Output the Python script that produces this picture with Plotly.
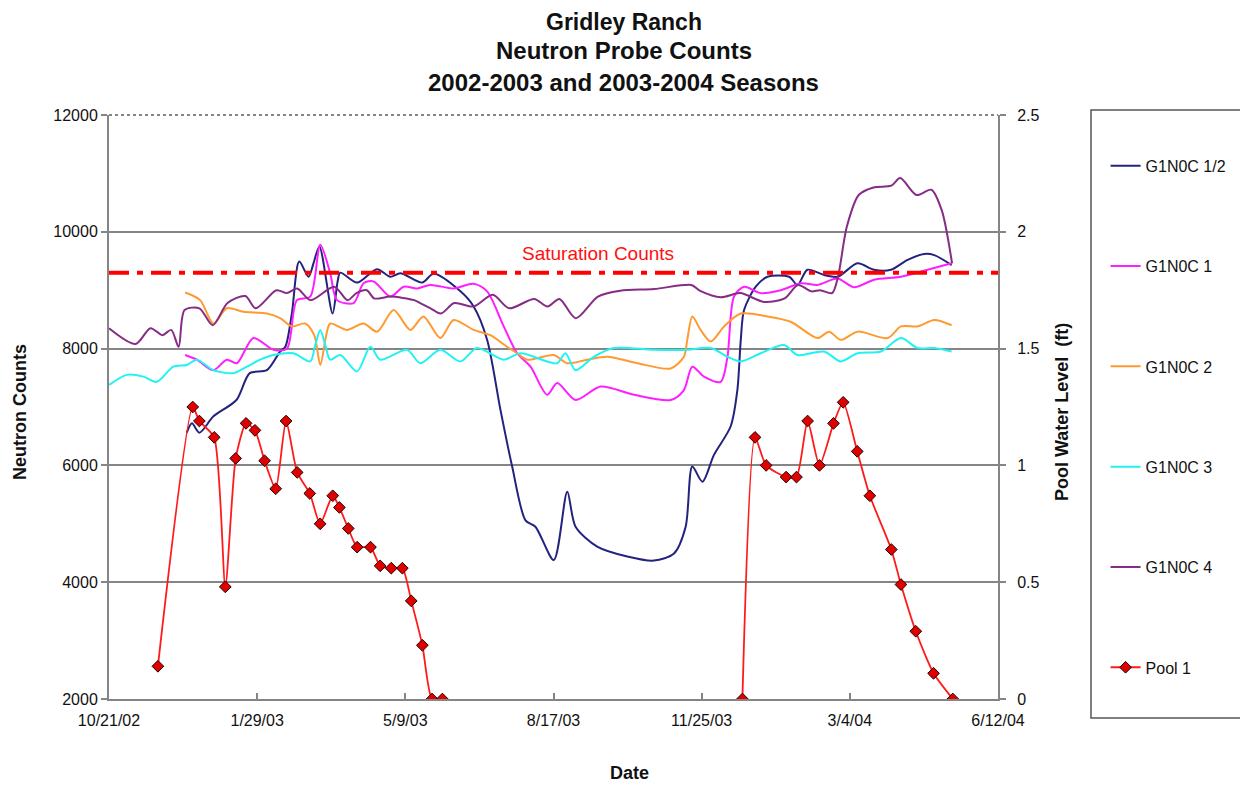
import plotly.graph_objects as go
import pandas as pd

# ---------------- data (days after 10/21/02) ----------------
START = "2002-10-21"

g12_days = [52.5, 56, 61, 70.5, 86, 95, 106.5, 115.5, 119, 123.4,
            128.4, 134.7, 138, 142, 150.9, 154.3, 156.1, 167.4, 180.9, 189.9,
            196.6, 211.3, 219.1, 237.2, 246.1, 255.2, 264.2, 272.1, 281.1, 287.8,
            300.2, 309.3, 314.9, 329.5, 349.8, 367.8, 381.3, 389.2, 393.7, 400.5,
            408.3, 419.6, 424.1, 426.4, 428.6, 436.5, 444.4, 459, 464.7, 471.4,
            482.6, 491.7, 505.2, 516.4, 527.7, 539, 550.2, 557, 568.7]
g12_vals = [6560, 6720, 6560, 6840, 7120, 7580, 7630, 7950, 8030, 8600,
            9490, 9230, 9460, 9750, 8600, 9150, 9300, 9130, 9360, 9230,
            9290, 9130, 9280, 8980, 8720, 8150, 6950, 5980, 5060, 4950,
            4380, 5550, 4950, 4610, 4440, 4370, 4490, 4950, 5980, 5720,
            6180, 6670, 7290, 8150, 8660, 9060, 9230, 9230, 9090, 9350,
            9260, 9230, 9460, 9350, 9350, 9520, 9620, 9600, 9430]

g1_days = [51.4, 59.3, 70.5, 79.5, 86.3, 97.5, 111, 120.1, 126.8,
           135.8, 142.6, 149.3, 153.9, 165.1, 171.8, 178.6, 189.9, 198.9, 207.9,
           216.9, 232.6, 246.1, 255.2, 266.4, 275.5, 284.5, 295.7, 302.5, 314.9,
           331.8, 354.3, 379.1, 388, 393.7, 401.6, 412.8, 417.4, 421.8, 428.6,
           439.9, 453.4, 467, 478.2, 491.7, 502.9, 516.4, 534.5, 552.5, 568.7]
g1_vals = [7890, 7810, 7630, 7810, 7750, 8180, 7980, 8000, 8830,
           8890, 9780, 9290, 8830, 8780, 9120, 9150, 8890, 9060, 9030,
           9090, 9030, 9110, 8980, 8380, 7920, 7690, 7210, 7410, 7120,
           7350, 7210, 7120, 7290, 7690, 7520, 7430, 7860, 8890, 9060,
           8950, 9000, 9120, 9090, 9200, 9050, 9180, 9230, 9350, 9460]

g2_days = [51.4, 61.5, 70.5, 79.5, 90.7, 106.6, 115.5, 123.4, 132.4, 138.5,
           142.6, 146.6, 149.3, 160.6, 171.8, 180.9, 192.1, 203.4, 212.2, 223.6,
           232.6, 246.1, 257.4, 268.7, 275.5, 282.2, 300.2, 309.3, 322.8, 336.3,
           356.6, 379.1, 388, 390.3, 393.7, 399.3, 406.1, 415.1, 426.4, 444.4,
           460.1, 478.2, 486, 493.9, 505.2, 525.5, 534.5, 545.7, 557, 568.7]
g2_vals = [8960, 8830, 8430, 8690, 8630, 8600, 8520, 8380, 8430, 8230,
           7720, 8230, 8430, 8320, 8430, 8290, 8660, 8320, 8550, 8180,
           8490, 8320, 8230, 8030, 7920, 7810, 7890, 7750, 7810, 7860,
           7750, 7660, 7860, 8150, 8550, 8320, 8120, 8380, 8600, 8550,
           8460, 8180, 8290, 8150, 8290, 8180, 8380, 8380, 8490, 8400]

g3_days = [0.2, 12, 23.2, 32.2, 43.4, 52.5, 59.3, 70.5, 84, 93,
           102, 111, 124.5, 135.8, 139.2, 142.6, 146, 149.3, 156.1, 167.4,
           176.4, 183.1, 201.1, 210.1, 223.6, 237.2, 248.4, 266.4, 277.7, 295.7,
           302.5, 308.1, 314.9, 327.2, 340.7, 367.8, 390.3, 406.1, 417.4, 426.4,
           439.9, 455.6, 464.7, 482.6, 493.9, 505.2, 520.9, 534.5, 545.7, 557,
           568.7]
g3_vals = [7380, 7550, 7520, 7430, 7690, 7720, 7810, 7630, 7580, 7690,
           7810, 7890, 7920, 7780, 8060, 8320, 8060, 7810, 7890, 7610,
           8030, 7810, 7980, 7750, 7980, 7780, 8010, 7810, 7920, 7780,
           7750, 7920, 7630, 7860, 8010, 7980, 7980, 8010, 7860, 7780,
           7920, 8060, 7890, 7950, 7780, 7920, 7950, 8180, 8010, 8010,
           7950]

g4_days = [0, 18, 28, 36, 42, 47, 51, 61, 70, 80,
           92, 99, 113, 120, 127, 136, 152, 161, 167, 174,
           179, 190, 206, 210, 217, 224, 233, 246, 259, 270,
           287, 296, 304, 315, 330, 345, 368, 393, 399, 413,
           426, 442, 456, 465, 474, 480, 488, 492, 498, 506,
           516, 528, 534, 545, 555, 562, 569]
g4_vals = [8350, 8080, 8350, 8230, 8320, 8030, 8660, 8690, 8400, 8780,
           8900, 8690, 9000, 8950, 9030, 8830, 9060, 8830, 8950, 9000,
           8860, 8890, 8830, 8780, 8690, 8600, 8780, 8720, 8920, 8690,
           8850, 8720, 8850, 8520, 8890, 8990, 9020, 9090, 8990, 8880,
           8950, 8800, 8860, 9090, 8980, 9000, 8950, 9230, 10090, 10630,
           10760, 10790, 10920, 10630, 10720, 10370, 9460]

pool_s1_days = [33, 56.5, 61, 71, 78.5, 85.5, 92.5, 98.5, 105, 112.5,
                119.5, 127, 135.5, 142.5, 151, 155.5, 161.5, 167.5, 176.5, 183,
                190.5, 198, 204, 211.5, 218, 225]
pool_s1_ft = [0.14, 1.25, 1.19, 1.12, 0.48, 1.03, 1.18, 1.15, 1.02, 0.90,
              1.19, 0.97, 0.88, 0.75, 0.87, 0.82, 0.73, 0.65, 0.65, 0.57,
              0.56, 0.56, 0.42, 0.23, 0.0, 0.0]
pool_s2_days = [427.5, 436, 443.5, 457, 464, 471.5, 479.5, 489, 495.5, 505,
                513.5, 528, 534.5, 544.5, 556.5, 569.5]
pool_s2_ft = [0.0, 1.12, 1.00, 0.95, 0.95, 1.19, 1.00, 1.18, 1.27, 1.06,
              0.87, 0.64, 0.49, 0.29, 0.11, 0.0]

SATURATION = 9300
x_tick_days = 100
x_span_days = 600

# ---------------- helpers ----------------
base = pd.Timestamp(START)


def to_dates(days):
    return [base + pd.Timedelta(days=d) for d in days]


FONT = "Liberation Sans, Arial, sans-serif"
GRID = "#858585"

fig = go.Figure()

series = [
    ("G1N0C 1/2", g12_days, g12_vals, "#23237F"),
    ("G1N0C 1", g1_days, g1_vals, "#FF1EFF"),
    ("G1N0C 2", g2_days, g2_vals, "#FF9A30"),
    ("G1N0C 3", g3_days, g3_vals, "#22F2F2"),
    ("G1N0C 4", g4_days, g4_vals, "#852C85"),
]
for name, d, v, c in series:
    fig.add_trace(go.Scatter(
        x=to_dates(d), y=v, name=name, mode="lines", legendgroup=name,
        line=dict(color=c, width=2, shape="spline", smoothing=0.8),
        yaxis="y",
    ))

pool_x = to_dates(pool_s1_days) + [None] + to_dates(pool_s2_days)
pool_y = pool_s1_ft + [None] + pool_s2_ft
fig.add_trace(go.Scatter(
    x=pool_x, y=pool_y, name="Pool 1", mode="lines+markers", legendgroup="Pool 1",
    connectgaps=False, yaxis="y2",
    line=dict(color="#FF1A1A", width=1.8, shape="spline", smoothing=0.6),
    marker=dict(symbol="diamond", size=9, color="#E00000",
                line=dict(color="#200000", width=1)),
))

end_date = (base + pd.Timedelta(days=x_span_days)).strftime("%Y-%m-%d")

# page body adds an 8px margin, so the figure is 8px smaller and margins are shifted
fig.update_layout(
    width=1240, height=780,
    margin=dict(l=101, r=250, t=107, b=89),
    paper_bgcolor="white", plot_bgcolor="white",
    font=dict(family=FONT, size=16, color="#111111"),
    showlegend=True,
    legend=dict(x=1.121, xanchor="left", y=0.942, yanchor="top",
                tracegroupgap=76.5, font=dict(size=16, family=FONT),
                bgcolor="rgba(0,0,0,0)", itemwidth=30),
    xaxis=dict(
        type="date", range=[START, end_date], tick0=START,
        dtick=x_tick_days * 86400000, tickformat="%-m/%-d/%y",
        ticks="inside", ticklen=6, tickcolor=GRID, tickwidth=1.5,
        showline=True, linecolor=GRID, linewidth=2,
        showgrid=False, zeroline=False, ticklabelstandoff=6,
        tickfont=dict(size=16),
    ),
    yaxis=dict(
        range=[2000, 12000], dtick=2000, tickformat="d",
        ticks="outside", ticklen=6, tickcolor=GRID, tickwidth=1.5,
        showline=True, linecolor=GRID, linewidth=2,
        showgrid=True, gridcolor=GRID, gridwidth=1.5, zeroline=False,
        tickfont=dict(size=16),
    ),
    yaxis2=dict(
        range=[0, 2.5], dtick=0.5, overlaying="y", side="right",
        ticks="outside", ticklen=6, tickcolor=GRID, tickwidth=1.5,
        showline=True, linecolor=GRID, linewidth=2,
        showgrid=False, zeroline=False, ticklabelstandoff=8,
        tickfont=dict(size=16),
    ),
    shapes=[
        dict(type="line", xref="paper", x0=0, x1=1, yref="y",
             y0=SATURATION, y1=SATURATION,
             line=dict(color="#FF0000", width=4, dash="20px,8px,6px,8px")),
        dict(type="line", xref="paper", x0=0, x1=1, yref="paper", y0=1, y1=1,
             line=dict(color=GRID, width=2, dash="dot")),
        dict(type="rect", xref="paper", yref="paper",
             x0=1.1046, x1=1.2733, y0=-0.0325, y1=1.0086,
             line=dict(color="#555555", width=1.5), fillcolor="rgba(0,0,0,0)"),
    ],
    annotations=[
        dict(text="<b>Gridley Ranch</b>", xref="paper", yref="paper",
             x=0.5793, y=1.1832, showarrow=False, font=dict(size=23),
             borderpad=0, xanchor="center", yanchor="top"),
        dict(text="<b>Neutron Probe Counts</b>", xref="paper", yref="paper",
             x=0.5793, y=1.1105, showarrow=False, font=dict(size=24),
             xanchor="center", yanchor="middle"),
        dict(text="<b>2002-2003 and 2003-2004 Seasons</b>", xref="paper", yref="paper",
             x=0.5793, y=1.0548, showarrow=False, font=dict(size=24),
             xanchor="center", yanchor="middle"),
        dict(text="Saturation Counts", xref="paper", yref="y",
             x=0.55, y=SATURATION, yshift=19, showarrow=False,
             font=dict(size=19, color="#FF1010"),
             xanchor="center", yanchor="middle"),
        dict(text="<b>Date</b>", xref="paper", yref="paper",
             x=0.585, y=-0.1267, showarrow=False, font=dict(size=18),
             xanchor="center", yanchor="middle"),
        dict(text="<b>Neutron Counts</b>", xref="paper", yref="paper",
             x=-0.1001, y=0.4914, showarrow=False, font=dict(size=18),
             textangle=-90, xanchor="center", yanchor="middle"),
        dict(text="<b>Pool Water Level\u00a0\u00a0(ft)</b>", xref="paper", yref="paper",
             x=1.072, y=0.4914, showarrow=False, font=dict(size=18),
             textangle=-90, xanchor="center", yanchor="middle"),
    ],
)

fig.write_html("out.html")
